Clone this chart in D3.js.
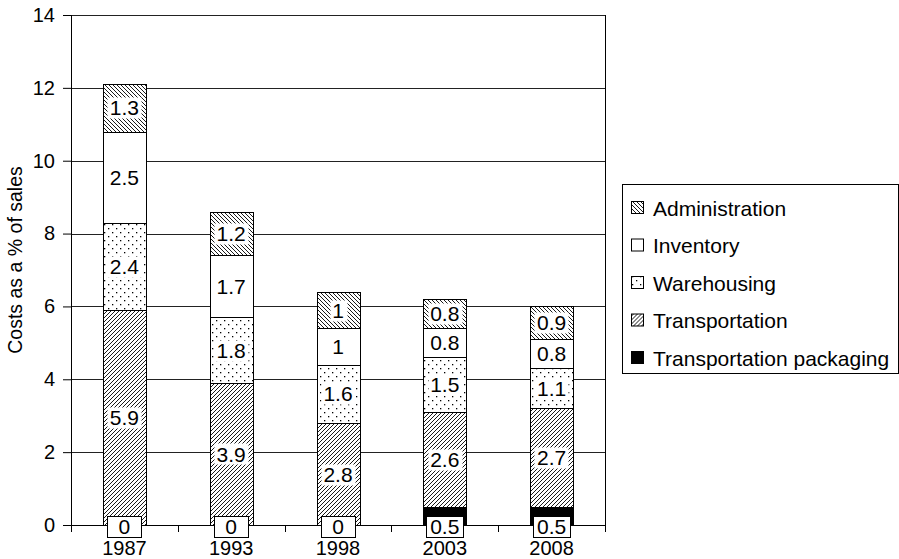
<!DOCTYPE html>
<html><head><meta charset="utf-8">
<script src="https://cdn.jsdelivr.net/npm/d3@7"></script>
<style>body{margin:0;background:#fff;} text{font-family:"Liberation Sans",Arial,Helvetica,sans-serif;}</style>
</head><body>
<svg id="c" width="899" height="559"></svg>
<script>
const years = ["1987","1993","1998","2003","2008"];
const seriesNames = ["Transportation packaging","Transportation","Warehousing","Inventory","Administration"];
const packaging = [0,0,0,0.5,0.5];
const transportation = [5.9,3.9,2.8,2.6,2.7];
const warehousing = [2.4,1.8,1.6,1.5,1.1];
const inventory = [2.5,1.7,1,0.8,0.8];
const administration = [1.3,1.2,1,0.8,0.9];
const yTicks = [0,2,4,6,8,10,12,14];
const legendOrder = ["Administration","Inventory","Warehousing","Transportation","Transportation packaging"];

const valuesBySeries = [packaging, transportation, warehousing, inventory, administration];
const fills = {
  "Transportation packaging":"#000",
  "Transportation":"url(#pTrans)",
  "Warehousing":"url(#pWare)",
  "Inventory":"#fff",
  "Administration":"url(#pAdmin)"
};

const svg = d3.select("#c");
const m = {l:71, t:15, r:294, b:34};
const W = 899 - m.l - m.r, H = 559 - m.t - m.b;

const defs = svg.append("defs");
const pT = defs.append("pattern").attr("id","pTrans").attr("patternUnits","userSpaceOnUse")
  .attr("width",4).attr("height",4);
pT.append("rect").attr("width",4).attr("height",4).attr("fill","#fff");
pT.append("path").attr("d","M-1,1 l2,-2 M0,4 l4,-4 M3,5 l2,-2").attr("stroke","#000").attr("stroke-width",0.9);
const pA = defs.append("pattern").attr("id","pAdmin").attr("patternUnits","userSpaceOnUse")
  .attr("width",4).attr("height",4);
pA.append("rect").attr("width",4).attr("height",4).attr("fill","#fff");
pA.append("path").attr("d","M-1,3 l2,2 M0,0 l4,4 M3,-1 l2,2").attr("stroke","#000").attr("stroke-width",0.9);
const pW = defs.append("pattern").attr("id","pWare").attr("patternUnits","userSpaceOnUse")
  .attr("width",8).attr("height",8);
pW.append("rect").attr("width",8).attr("height",8).attr("fill","#fff");
pW.append("rect").attr("x",1).attr("y",1).attr("width",1.3).attr("height",1.3).attr("fill","#000");
pW.append("rect").attr("x",5).attr("y",5).attr("width",1.3).attr("height",1.3).attr("fill","#000");

const g = svg.append("g").attr("transform",`translate(${m.l},${m.t})`);
const x = d3.scaleBand().domain(years).range([0,W]).paddingInner(0.6).paddingOuter(0.3);
const y = d3.scaleLinear().domain([0,14]).range([H,0]);

// gridlines
g.append("g").selectAll("line").data(yTicks).join("line")
  .attr("x1",0).attr("x2",W).attr("y1",d=>Math.round(y(d))+0.5).attr("y2",d=>Math.round(y(d))+0.5)
  .attr("stroke","#222").attr("stroke-width",1);
// right border
g.append("line").attr("x1",W+0.5).attr("x2",W+0.5).attr("y1",0).attr("y2",H).attr("stroke","#000");

// stack
const rows = years.map((yr,i)=>{ const o={year:yr}; seriesNames.forEach((s,k)=>o[s]=valuesBySeries[k][i]); return o; });
const stacked = d3.stack().keys(seriesNames)(rows);

const layers = g.append("g").selectAll("g").data(stacked).join("g").attr("fill",d=>fills[d.key]);
layers.selectAll("rect").data(d=>d.filter(p=>p[1]-p[0]>0)).join("rect")
  .attr("x",d=>Math.round(x(d.data.year))+0.5).attr("width",Math.round(x.bandwidth()))
  .attr("y",d=>Math.round(y(d[1]))+0.5).attr("height",d=>Math.round(y(d[0]))-Math.round(y(d[1])))
  .attr("stroke","#000").attr("stroke-width",1);

// axes
const yAxis = d3.axisLeft(y).tickValues(yTicks).tickSize(8).tickPadding(8).tickFormat(d3.format("d"));
const ya = g.append("g").call(yAxis);
ya.attr("font-family",null);
ya.select(".domain").remove();
ya.selectAll("line").attr("stroke","#000");
ya.selectAll("text").attr("font-size",20).attr("fill","#000");
g.append("line").attr("x1",0.5).attr("x2",0.5).attr("y1",0).attr("y2",H).attr("stroke","#000");

const xa = g.append("g").attr("transform",`translate(0,${H})`);
xa.append("line").attr("x1",0).attr("x2",W).attr("y1",0.5).attr("y2",0.5).attr("stroke","#000");
const step = x.step();
const bounds = d3.range(years.length+1).map(i=>i*step);
xa.selectAll(".tk").data(bounds).join("line").attr("class","tk")
  .attr("x1",d=>Math.round(d)+0.5).attr("x2",d=>Math.round(d)+0.5).attr("y1",0).attr("y2",7).attr("stroke","#000");
xa.selectAll(".lb").data(years).join("text").attr("class","lb")
  .attr("x",d=>x(d)+x.bandwidth()/2).attr("y",30).attr("text-anchor","middle")
  .attr("font-size",20).attr("fill","#000").text(d=>d);

// y label
svg.append("text").attr("transform",`translate(22,260) rotate(-90)`)
  .attr("text-anchor","middle").attr("font-size",19.5).text("Costs as a % of sales");

// data labels
const lbl = g.append("g");
stacked.forEach(layer=>{
  layer.forEach(p=>{
    const v = p[1]-p[0];
    const isPack = layer.key==="Transportation packaging";
    const cx = x(p.data.year)+x.bandwidth()/2;
    const cy = isPack ? y(0)+1 : y((p[0]+p[1])/2);
    const txt = String(+v.toFixed(1));
    const t = lbl.append("text").attr("x",cx).attr("y",cy).attr("dy","0.36em")
      .attr("text-anchor","middle").attr("font-size",21).attr("fill","#000").text(txt);
    const bb = t.node().getBBox();
    const bw = isPack ? Math.max(bb.width+8, 34) : bb.width+5;
    lbl.insert("rect","text:last-child").attr("x",Math.round(cx-bw/2)+0.5).attr("y",Math.round(cy-10.5)+0.5)
      .attr("width",Math.round(bw)).attr("height",21)
      .attr("fill","#fff").attr("stroke",isPack?"#000":"none");
  });
});

// legend
const lg = svg.append("g").attr("transform","translate(622,184)");
lg.append("rect").attr("x",0.5).attr("y",0.5).attr("width",276).attr("height",189).attr("fill","#fff").attr("stroke","#000");
const items = lg.selectAll(".it").data(legendOrder).join("g").attr("class","it")
  .attr("transform",(d,i)=>`translate(9,${24+i*37.5})`);
items.append("rect").attr("x",0.5).attr("y",-6.5).attr("width",12).attr("height",12)
  .attr("fill",d=>fills[d]).attr("stroke","#000");
items.append("text").attr("x",22).attr("y",0).attr("dy","0.36em").attr("font-size",21).text(d=>d);
</script>
</body></html>
